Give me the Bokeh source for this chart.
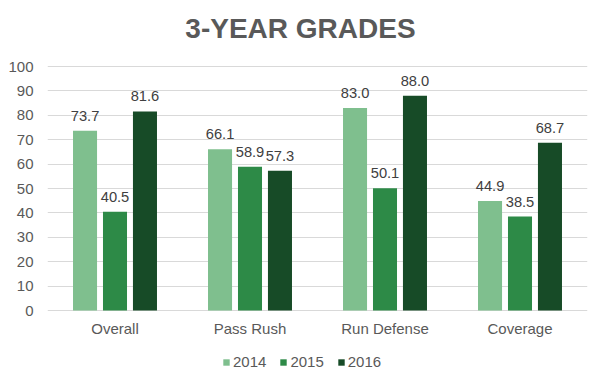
from bokeh.plotting import figure
from bokeh.models import (FactorRange, Range1d, ColumnDataSource, Legend, LegendItem,
                          FixedTicker, Label)
from bokeh.transform import dodge
from bokeh.core.properties import value
from bokeh.embed import file_html
from bokeh.resources import INLINE

title_text = "3-YEAR GRADES"
categories = ["Overall", "Pass Rush", "Run Defense", "Coverage"]
years = ["2014", "2015", "2016"]
grades_2014 = [73.7, 66.1, 83.0, 44.9]
grades_2015 = [40.5, 58.9, 50.1, 38.5]
grades_2016 = [81.6, 57.3, 88.0, 68.7]
y_ticks = list(range(0, 101, 10))

colors = ["#7FBF8E", "#2D8A47", "#174B27"]
series = [grades_2014, grades_2015, grades_2016]
offsets = [-0.222, 0.0, 0.222]
FONT = "Liberation Sans"
GREY = "#595959"

# layout: 244 px per 100 units; frame spans whole figure height
UPP = 100.0 / 244.0
FRAME_H = 380
Y_TOP = 100 + 66 * UPP
Y_BOT = -(FRAME_H - 310) * UPP

data = {"cat": categories}
for yr, vals in zip(years, series):
    data["v" + yr] = vals
    data["l" + yr] = ["%.1f" % v for v in vals]
source = ColumnDataSource(data)

p = figure(frame_width=540, frame_height=FRAME_H, x_range=FactorRange(*categories),
           y_range=Range1d(Y_BOT, Y_TOP), x_axis_location=None,
           output_backend="svg", toolbar_location=None,
           min_border_left=47, min_border_right=8, min_border_top=0, min_border_bottom=0)
p.outline_line_color = None
p.background_fill_color = "white"
p.border_fill_color = "white"

p.add_layout(Label(x=(300 - 47) / 135.0, y=100 + (66 - 28) * UPP, text=title_text,
                   text_align="center", text_baseline="alphabetic",
                   text_font=FONT, text_font_size="28px", text_font_style="bold",
                   text_color=GREY))

items = []
for yr, off, col in zip(years, offsets, colors):
    r = p.vbar(x=dodge("cat", off, range=p.x_range), top="v" + yr, bottom=0, width=0.178,
               source=source, fill_color=col, line_color=None)
    p.text(x=dodge("cat", off, range=p.x_range), y="v" + yr, text="l" + yr, source=source,
           text_align="center", text_baseline="alphabetic", y_offset=-15,
           text_font=value(FONT), text_font_size="14.7px", text_color="#404040")
    items.append(LegendItem(label=yr, renderers=[r]))

# category labels under the baseline
p.text(x="cat", y=0, text="cat", source=source, text_align="center", text_baseline="middle",
       y_offset=18, text_font=value(FONT), text_font_size="15px", text_color=GREY)

p.xgrid.grid_line_color = None
p.ygrid.grid_line_color = "#D9D9D9"
p.ygrid.ticker = FixedTicker(ticks=y_ticks)

p.yaxis.ticker = FixedTicker(ticks=y_ticks)
p.yaxis.axis_line_color = None
p.yaxis.major_tick_line_color = None
p.yaxis.minor_tick_line_color = None
p.yaxis.major_tick_out = 0
p.yaxis.major_label_standoff = 14
p.yaxis.major_label_text_font = FONT
p.yaxis.major_label_text_font_size = "15px"
p.yaxis.major_label_text_color = GREY

legend = Legend(items=items, orientation="horizontal", location=(175, 10))
legend.glyph_width = 8
legend.glyph_height = 8
legend.label_standoff = 3
legend.spacing = 13
legend.padding = 0
legend.margin = 0
legend.border_line_color = None
legend.background_fill_alpha = 0
legend.label_text_font = FONT
legend.label_text_font_size = "15px"
legend.label_text_color = GREY
p.add_layout(legend)

open("out.html", "w").write(file_html(p, INLINE))
